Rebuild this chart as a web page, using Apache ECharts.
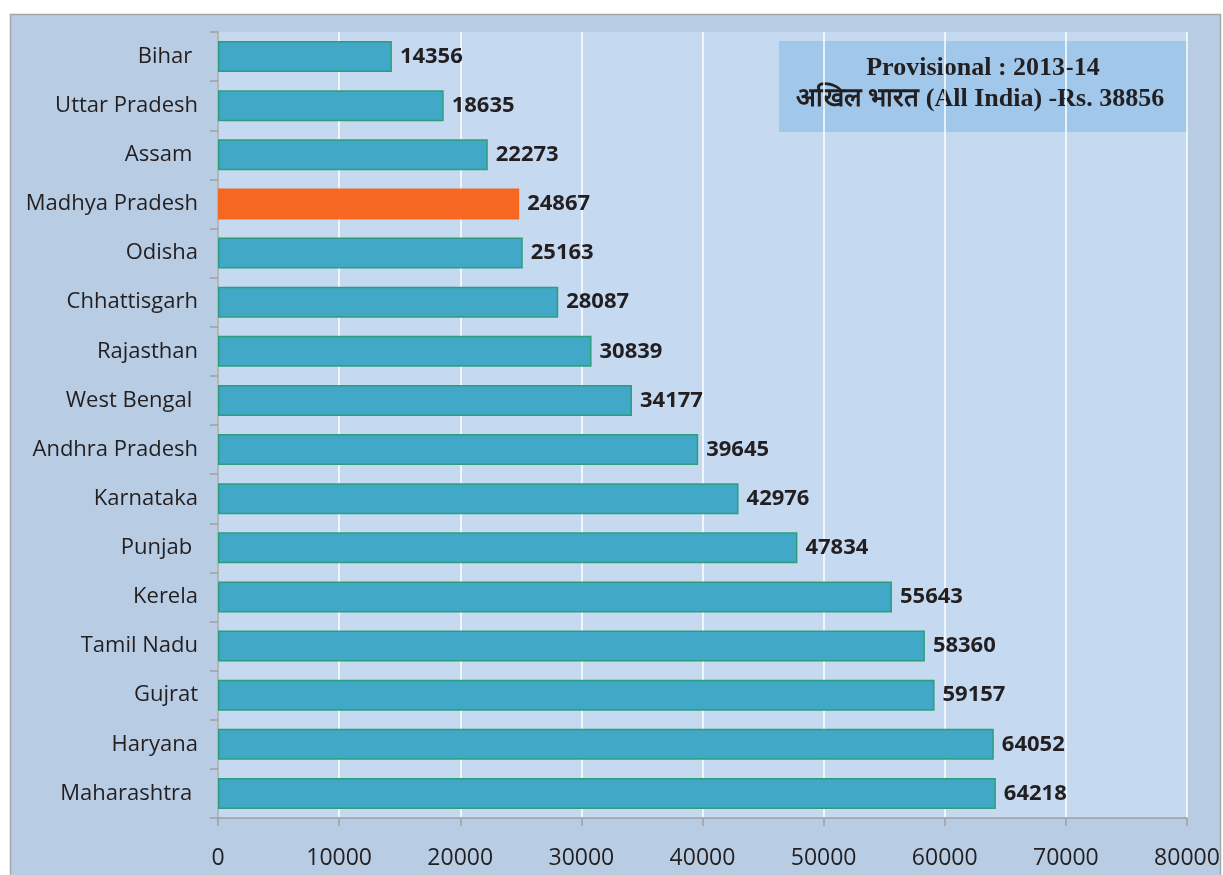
<!DOCTYPE html>
<html>
<head>
<meta charset="utf-8">
<script src="https://cdn.jsdelivr.net/npm/echarts@6/dist/echarts.min.js"></script>
<style>
html,body{margin:0;padding:0;background:#ffffff;}
#chart{width:1223px;height:875px;}
</style>
</head>
<body>
<div id="chart"></div>
<script>
const states = ["Bihar ", "Uttar Pradesh", "Assam ", "Madhya Pradesh", "Odisha", "Chhattisgarh", "Rajasthan", "West Bengal ", "Andhra Pradesh", "Karnataka", "Punjab ", "Kerela", "Tamil Nadu", "Gujrat", "Haryana", "Maharashtra "];
const income = [14356, 18635, 22273, 24867, 25163, 28087, 30839, 34177, 39645, 42976, 47834, 55643, 58360, 59157, 64052, 64218];
const highlighted = "Madhya Pradesh";
const xTicks = [0, 10000, 20000, 30000, 40000, 50000, 60000, 70000, 80000];
const noteLine1 = "Provisional : 2013-14";
const noteLine2 = "अखिल भारत (All India) -Rs. 38856";

const chart = echarts.init(document.getElementById('chart'));
const barData = states.map((s, i) => {
  if (s.trim() === highlighted) {
    return { value: income[i], itemStyle: { color: '#f66822', borderColor: '#f66822' } };
  }
  return income[i];
});

chart.setOption({
  backgroundColor: '#ffffff',
  animation: false,
  graphic: [
    { type: 'rect', z: -10, shape: { x: 10.5, y: 14.5, width: 1210, height: 870 },
      style: { fill: '#b8cce4', stroke: '#a6a6a6', lineWidth: 1.5 } },
    { type: 'group', z: 100, children: [
      { type: 'rect', shape: { x: 779, y: 41, width: 409, height: 91 },
        style: { fill: '#a1c7ea' } },
      { type: 'text', style: { x: 983, y: 68, text: noteLine1, align: 'center', verticalAlign: 'middle',
        font: 'bold 26px "Liberation Serif", "Times New Roman", serif', fill: '#231f20' } },
      { type: 'text', style: { x: 980, y: 99, text: noteLine2, align: 'center', verticalAlign: 'middle',
        font: 'bold 26px "Liberation Serif", "Times New Roman", serif', fill: '#231f20' } }
    ]}
  ],
  grid: { left: 218, right: 36, top: 32, bottom: 57, show: true, backgroundColor: '#c5d9f1', borderWidth: 0 },
  xAxis: {
    type: 'value', min: 0, max: 80000, interval: 10000,
    axisLine: { show: true, lineStyle: { color: '#a0a0a0', width: 1.5 } },
    axisTick: { show: true, length: 8, lineStyle: { color: '#a0a0a0', width: 1.5 } },
    splitLine: { show: true, lineStyle: { color: '#ffffff', width: 1.5 } },
    axisLabel: { margin: 29, color: '#231f20', fontSize: 23, fontFamily: '"Open Sans", sans-serif',
      formatter: v => xTicks.includes(v) ? String(v) : '' }
  },
  yAxis: {
    type: 'category', data: states, inverse: true,
    axisLine: { show: true, lineStyle: { color: '#a0a0a0', width: 1.5 } },
    axisTick: { show: true, length: 8, lineStyle: { color: '#a0a0a0', width: 1.5 } },
    splitLine: { show: false },
    axisLabel: { margin: 20, color: '#231f20', fontSize: 22, fontFamily: '"Open Sans", sans-serif',
      padding: [4, 0, 0, 0] }
  },
  series: [{
    type: 'bar', data: barData, barWidth: 31,
    itemStyle: { color: '#41a9c7', borderColor: '#2e9e7a', borderWidth: 1.5 },
    label: { show: true, position: 'right', distance: 8, color: '#231f20', fontSize: 22, fontWeight: 'bold',
      fontFamily: '"Open Sans", sans-serif', padding: [3, 0, 0, 0] }
  }]
});
</script>
</body>
</html>
